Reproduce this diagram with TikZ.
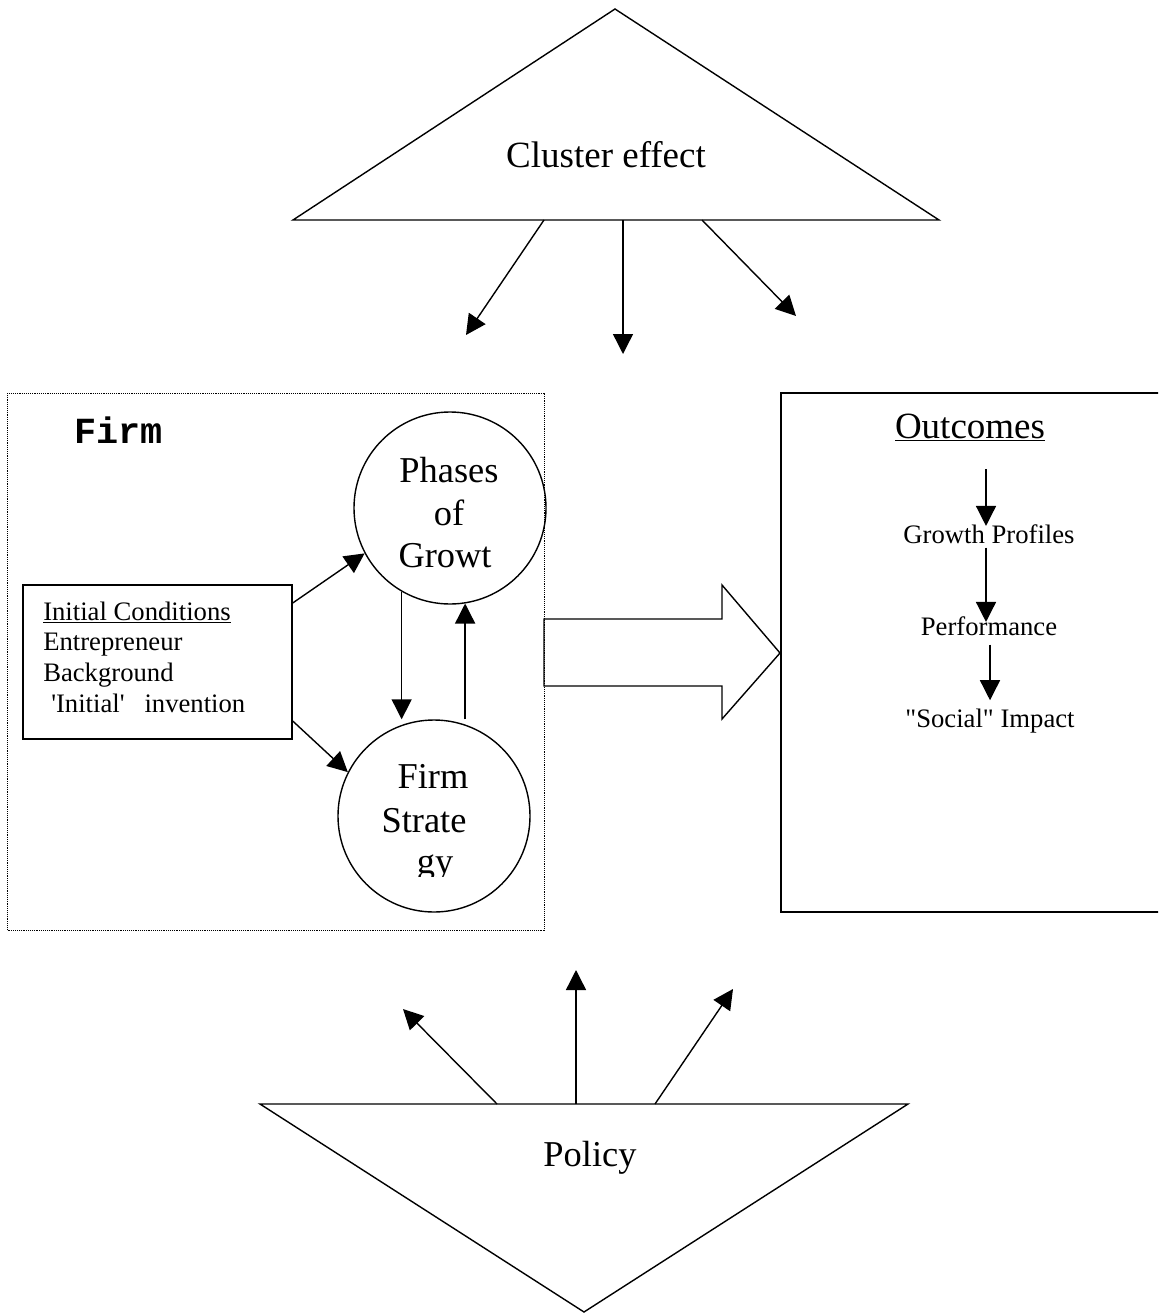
\documentclass[tikz,border=0pt]{standalone}
\usepackage{fontspec}
\setmainfont{Liberation Serif}
\setmonofont{Liberation Mono}
\usetikzlibrary{arrows.meta,calc}
\newcommand\fsBig{\fontsize{27.75pt}{33pt}\selectfont}
\newcommand\fsMid{\fontsize{27.3pt}{33pt}\selectfont}
\newcommand\fsSmall{\fontsize{20pt}{23pt}\selectfont}
\newcommand\fsMono{\ttfamily\bfseries\fontsize{27.6pt}{33pt}\selectfont}
\begin{document}
\begin{tikzpicture}[x=0.75pt,y=-0.75pt,
  ln/.style={line width=1.05pt},
  arr/.style={line width=1.05pt,-{Triangle[length=15pt,width=15pt]}},
  txt/.style={inner sep=0pt,anchor=base},
  dotbox/.style={line width=0.7pt,dash pattern=on 0.7pt off 0.7pt},
  circ/.style={circle,draw,line width=1.05pt,minimum size=144pt,inner sep=0pt},
  ]
\useasboundingbox (0,0) rectangle (1158,1313);
\clip (0,0) rectangle (1158,1313);

% ---------- Cluster effect ----------
\draw[ln,line join=miter] (293,220) -- (615,9) -- (939,220) -- cycle;
\node[txt,font=\fsBig] (cluster) at (606,167) {Cluster effect};
\coordinate (cb1) at (544,220); \coordinate (ct1) at (466,335);
\coordinate (cb2) at (623,220); \coordinate (ct2) at (623,354);
\coordinate (cb3) at (702,220); \coordinate (ct3) at (796,316);
\draw[arr] (cb1) -- (ct1);
\draw[arr] (cb2) -- (ct2);
\draw[arr] (cb3) -- (ct3);

% ---------- Firm box ----------
\draw[dotbox] (7,393) rectangle (544,930);
\node[txt,anchor=base west,font=\fsMono] (firmlbl) at (74,443) {Firm};

\node[circ] (phases) at (450,508) {};
\node[txt,font=\fsMid] (ph1) at (449,482) {Phases};
\node[txt,font=\fsMid] (ph2) at (449,525) {of};
\node[txt,font=\fsMid] (ph3) at (445,567) {Growt};

\node[circ] (strat) at (434,816) {};
\node[txt,font=\fsMid] (st1) at (433,788) {Firm};
\node[txt,font=\fsMid] (st2) at (424,832) {Strate};
\begin{scope}
  \clip (380,840) rectangle (490,876);
  \node[txt,font=\fsMid] (st3) at (435,873) {gy};
\end{scope}

\node[draw,line width=1.05pt,minimum width=201.75pt,minimum height=115.5pt,inner sep=0pt] (icbox) at (157.5,662) {};
\node[txt,anchor=base west,font=\fsSmall] (ic1) at (43,620) {\underline{Initial Conditions}};
\node[txt,anchor=base west,font=\fsSmall] (ic2) at (43,650.7) {Entrepreneur};
\node[txt,anchor=base west,font=\fsSmall] (ic3) at (43,681.3) {Background};
\node[txt,anchor=base west,font=\fsSmall] (ic4) at (51,712) {\textquotesingle Initial\textquotesingle\hspace{15pt}invention};

\draw[arr] ([yshift=44.25pt]icbox.east) -- (phases.208);
\draw[arr] ([yshift=-44.25pt]icbox.east) -- (strat.153);
\draw[arr] (phases.240) -- (phases.240 |- strat.north);
\draw[arr] (phases.279 |- strat.north) -- (phases.279);

% ---------- big arrow ----------
\draw[ln,line join=miter] (544,619) -- (722,619) -- (722,585) -- (780,653) -- (722,719) -- (722,686) -- (544,686) -- cycle;

% ---------- Outcomes ----------
\draw[line width=1.2pt] (781,393) rectangle (1170,912);
\node[txt,font=\fsBig] (outc) at (970,438) {\underline{Outcomes}};
\node[txt,font=\fsSmall] (gp) at (989,543) {Growth Profiles};
\node[txt,font=\fsSmall] (perf) at (989,635) {Performance};
\node[txt,font=\fsSmall] (soc) at (990,727) {\textquotedbl Social\textquotedbl{} Impact};
\coordinate (o0) at (986,469);
\draw[arr] (o0) -- ([xshift=-2.25pt,yshift=-1.5pt]gp.north);
\draw[arr] ([xshift=-2.25pt,yshift=-3pt]gp.south) -- ([xshift=-2.25pt,yshift=-4.5pt]perf.north);
\draw[arr] ($(soc.north |- perf.south)+(0,9)$) -- ([yshift=6pt]soc.north);

% ---------- Policy ----------
\draw[ln,line join=miter] (260,1104) -- (908,1104) -- (584,1312) -- cycle;
\node[txt,font=\fsMid] (policy) at (590,1166) {Policy};
\coordinate (pb1) at (497,1104); \coordinate (pt1) at (403,1009);
\coordinate (pb2) at (576,1104); \coordinate (pt2) at (576,970);
\coordinate (pb3) at (655,1104); \coordinate (pt3) at (733,989);
\draw[arr] (pb1) -- (pt1);
\draw[arr] (pb2) -- (pt2);
\draw[arr] (pb3) -- (pt3);
\end{tikzpicture}
\end{document}
